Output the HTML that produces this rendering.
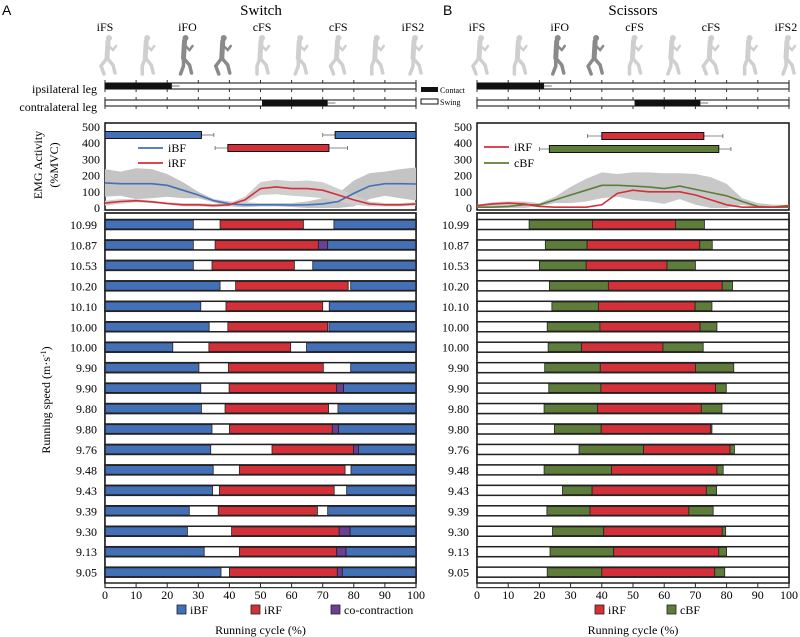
<!DOCTYPE html>
<html><head><meta charset="utf-8"><style>
html,body{margin:0;padding:0;background:#fff;}
svg{display:block;font-family:"Liberation Serif",serif;}
</style></head><body>
<svg id="fig" width="800" height="637" viewBox="0 0 800 637" xmlns="http://www.w3.org/2000/svg">
<text x="2" y="15" font-family="Liberation Sans,sans-serif" font-size="14">A</text>
<text x="443" y="15" font-family="Liberation Sans,sans-serif" font-size="14">B</text>
<text x="261" y="15" font-size="15" text-anchor="middle">Switch</text>
<text x="633" y="15" font-size="15" text-anchor="middle">Scissors</text>
<text x="97" y="93" font-size="12" text-anchor="end">ipsilateral leg</text>
<text x="97" y="111" font-size="12" text-anchor="end">contralateral leg</text>
<g>
<rect x="421" y="87" width="17" height="5" fill="#111"/>
<text x="440" y="93" font-size="8">Contact</text>
<rect x="421" y="99" width="17" height="5" fill="#fff" stroke="#111"/>
<text x="440" y="105" font-size="8">Swing</text>
</g>
<text transform="translate(42,165) rotate(-90)" font-size="12" text-anchor="middle">EMG Activity</text>
<text transform="translate(58,165) rotate(-90)" font-size="12" text-anchor="middle">(%MVC)</text>
<text transform="translate(50,400) rotate(-90)" font-size="12" text-anchor="middle">Running speed (m·s<tspan dy="-4" font-size="8">-1</tspan><tspan dy="4">)</tspan></text>
<g id="L"></g><g id="R"></g>
</svg>
<script>
// ---- data ----
const speeds = ["10.99","10.87","10.53","10.20","10.10","10.00","10.00","9.90","9.90","9.80","9.80","9.76","9.48","9.43","9.39","9.30","9.13","9.05"];
// Switch (A)
const swBFend   = [28.4,28.4,28.4,37,30.8,33.5,21.8,30.2,30.8,31,34.4,34,34.8,34.6,27.1,26.5,31.9,37.3];
const swRFstart = [37,35.4,34.4,42,38.9,39.5,33.4,39.7,39.9,38.6,40,53.7,43.2,36.8,36.4,40.7,43.2,40];
const swRFend   = [63.8,68.6,60.9,78.2,70,71.6,59.7,70.2,74.5,71.9,73.1,79.9,77.2,73.7,68.3,75.3,74.5,74.7];
const swCoEnd   = [63.8,71.6,60.9,78.2,70,71.6,59.7,70.2,76.7,71.9,75.1,81.5,77.2,73.7,68.3,78.8,77.5,76.3];
const swBFstart = [73.6,71.6,66.8,79,72.1,72,64.8,79,76.7,74.9,75.1,81.5,79.1,77.7,71.6,78.8,77.5,76.3];
// Scissors (B)
const scBFstart = [16.7,21.9,20,23.2,24,22.5,22.8,21.7,23,21.5,24.8,32.7,21.5,27.4,22.4,24.2,23.4,22.5];
const scRFstart = [37,35.3,35,42.1,38.9,39.4,33.5,39.5,39.7,38.6,39.8,53.4,43.1,36.9,36.2,40.6,43.8,40];
const scRFend   = [63.6,71.4,60.9,78.6,69.9,71.5,59.6,70,76.5,71.9,74.9,81.1,76.9,73.5,67.9,78.6,77.5,76.2];
const scBFend   = [72.9,75.4,70,81.9,75.3,76.9,72.5,82.3,79.9,78.5,75.3,82.5,78.9,76.8,75.7,79.7,80,79.4];
// EMG curves at 0,5,...,100 %
const cyc = [0,5,10,15,20,25,30,35,40,45,50,55,60,65,70,75,80,85,90,95,100];
const swIBF   = [155,150,150,150,140,110,80,45,25,20,20,20,18,20,25,40,90,135,150,150,148];
const swIBFsd = [240,225,245,240,210,160,100,55,40,35,30,30,30,40,60,90,170,215,225,240,250];
const swIRF   = [30,40,45,38,28,20,20,15,20,50,120,130,120,120,110,80,50,25,20,20,25];
const swIRFsd = [45,55,55,45,35,30,30,25,30,70,160,175,165,170,160,120,80,40,30,30,35];
const scIRF   = [15,25,30,25,10,5,5,5,20,90,110,100,100,100,80,50,20,5,5,5,15];
const scCBF   = [5,5,10,20,20,50,80,110,140,140,135,130,120,135,115,95,75,40,10,5,5];
const scSD    = [20,35,40,40,30,70,130,180,220,210,220,220,215,215,210,190,150,60,30,20,20];
// EMG summary bars [start,end,errLo,errHi]
const swBFbarA = [0,31,31,35];
const swBFbarB = [74,100,70,74];
const swRFbar  = [39.5,72,35.4,78];
const scRFbar  = [40,72.7,35.4,78.8];
const scCBFbar = [23.2,77.5,20,81.4];
const phaseLabels = ["iFS","iFO","cFS","cFS","iFS2"];
const phasePos = [0,26.5,50.5,75,99];
const contactIps = [0,21.5];
const contactCon = [50.5,71.6];
const emgTicks = [0,100,200,300,400,500];
const xTicks = [0,10,20,30,40,50,60,70,80,90,100];

const C = {blue:"#4370b7",red:"#d3303a",purple:"#6b3f98",green:"#5e7d3a",dark:"#222"};
const NS="http://www.w3.org/2000/svg";
function mk(parent,tag,attrs,txt){const e=document.createElementNS(NS,tag);for(const k in attrs)e.setAttribute(k,attrs[k]);if(txt!==undefined)e.textContent=txt;parent.appendChild(e);return e;}

function panel(g,x0,x1,side){
  const X=p=>x0+(x1-x0)*p/100;
  const rowY=i=>224.5+i*20.45;
  const EY=v=>208-v*0.162;
  // phase labels
  phaseLabels.forEach((t,i)=>{const e=mk(g,"text",{x:X(phasePos[i]),y:31,"font-size":"12","text-anchor":"middle"},t);
    
    });
  // runner figures (simple silhouettes)
  for(let k=0;k<9;k++){const cx=X(k*12.3)+2;const f=mk(g,"g",{});
    
    
    const col=(k>=2&&k<=3)?"#8a8a8a":"#cfcfcf";
    mk(f,"circle",{cx:cx+2,cy:38,r:3,fill:col});
    mk(f,"line",{x1:cx+1,y1:41,x2:cx,y2:58,stroke:col,"stroke-width":5,"stroke-linecap":"round"});
    mk(f,"polyline",{points:`${cx},58 ${cx-6+(k%3)*3},66 ${cx-3},74`,fill:"none",stroke:col,"stroke-width":3.5,"stroke-linecap":"round"});
    mk(f,"polyline",{points:`${cx},58 ${cx+6},65 ${cx+8},73`,fill:"none",stroke:col,"stroke-width":3.5,"stroke-linecap":"round"});
    mk(f,"polyline",{points:`${cx+1},45 ${cx+6},50 ${cx+9},46`,fill:"none",stroke:col,"stroke-width":2.5,"stroke-linecap":"round"});
  }
  // leg contact bars
  [[86,contactIps,'ipsilateral-contact-bar'],[103,contactCon,'contralateral-contact-bar']].forEach(([y,c,n])=>{
    const gg=mk(g,"g",{});
    
    
    xTicks.forEach(t=>mk(gg,"line",{x1:X(t),x2:X(t),y1:y-6,y2:y+6,stroke:"#333","stroke-width":1}));
    mk(gg,"rect",{x:x0,y:y-3,width:x1-x0,height:6,fill:"#fff",stroke:"#333","stroke-width":1.2});
    mk(gg,"rect",{x:X(c[0]),y:y-3,width:X(c[1])-X(c[0]),height:6,fill:"#111"});
    mk(gg,"line",{x1:X(c[1]),x2:X(c[1]+2.5),y1:y,y2:y,stroke:"#555","stroke-width":0.8});
  });
  // EMG frame
  const ef=mk(g,"rect",{x:x0,y:123,width:x1-x0,height:87,fill:"#fff",stroke:"#111","stroke-width":1.5});
  
  
  emgTicks.forEach(v=>{const e=mk(g,"text",{x:x0-5,y:EY(v)+4,"font-size":"12","text-anchor":"end"},String(v));
    
    });
  const poly=(arr)=>arr.map((v,i)=>`${X(cyc[i]).toFixed(1)},${EY(v).toFixed(1)}`).join(" ");
  const band=(up,mean)=>{const lo=mean.map((m,i)=>Math.max(0,2*m-up[i]));
    return poly(up)+" "+lo.map((v,i)=>`${X(cyc[i]).toFixed(1)},${EY(v).toFixed(1)}`).reverse().join(" ");};
  function bar(b,y,col,name){const gg=mk(g,"g",{});
    
    
    mk(gg,"line",{x1:X(b[2]),x2:X(b[3]),y1:y,y2:y,stroke:"#666","stroke-width":0.8});
    mk(gg,"line",{x1:X(b[2]),x2:X(b[2]),y1:y-2,y2:y+2,stroke:"#666","stroke-width":0.8});
    mk(gg,"line",{x1:X(b[3]),x2:X(b[3]),y1:y-2,y2:y+2,stroke:"#666","stroke-width":0.8});
    mk(gg,"rect",{x:X(b[0]),y:y-3.5,width:X(b[1])-X(b[0]),height:7,fill:col,stroke:"#111","stroke-width":1});}
  function curve(arr,col,name){const e=mk(g,"polyline",{points:poly(arr),fill:"none",stroke:col,"stroke-width":1.6});
    
    }
  function leg(y,col,t,lx,name){const gg=mk(g,"g",{});
    
    
    mk(gg,"line",{x1:lx,x2:lx+25,y1:y,y2:y,stroke:col,"stroke-width":1.8});
    mk(gg,"text",{x:lx+30,y:y+4,"font-size":"12"},t);}
  if(side==="L"){
    const b1=mk(g,"polygon",{points:band(swIBFsd,swIBF),fill:"#c4c4c4"});
    
    
    const b2=mk(g,"polygon",{points:band(swIRFsd,swIRF),fill:"#cfcfcf"});
    
    
    curve(swIBF,C.blue,'ibf-curve');curve(swIRF,C.red,'irf-curve');
    bar(swBFbarA,135,C.blue,'ibf-activation-bar-early');bar(swBFbarB,135,C.blue,'ibf-activation-bar-late');
    bar(swRFbar,148,C.red,'irf-activation-bar');
    leg(148,C.blue,"iBF",138,'legend-ibf');leg(163,C.red,"iRF",138,'legend-irf');
  } else {
    const b1=mk(g,"polygon",{points:band(scSD,scCBF),fill:"#c8c8c8"});
    
    
    curve(scCBF,C.green,'cbf-curve');curve(scIRF,C.red,'irf-curve');
    bar(scRFbar,136,C.red,'irf-activation-bar');bar(scCBFbar,149,C.green,'cbf-activation-bar');
    leg(147,C.red,"iRF",484,'legend-irf');leg(163,C.green,"cBF",484,'legend-cbf');
  }
  // bar panel
  const bf=mk(g,"rect",{x:x0,y:213,width:x1-x0,height:370,fill:"#fff",stroke:"#222","stroke-width":1.5});
  
  
  speeds.forEach((s,i)=>{const y=rowY(i);const row=mk(g,"g",{});
    
    
    mk(row,"rect",{x:x0,y:y+5,width:x1-x0,height:10.45,fill:"#fff",stroke:"#333","stroke-width":1.2});
    mk(row,"rect",{x:x0,y:y-5,width:x1-x0,height:10,fill:"#fff",stroke:"#222","stroke-width":1.5});
    const seg=(a,b,col,n)=>{if(b-a<=0)return;const r=mk(row,"rect",{x:X(a),y:y-4.3,width:X(b)-X(a),height:8.6,fill:col,stroke:"#222","stroke-width":0.8});
      
      };
    if(side==="L"){
      seg(0,swBFend[i],C.blue,'ibf-segment');seg(swRFstart[i],swRFend[i],C.red,'irf-segment');
      seg(swRFend[i],swCoEnd[i],C.purple,'co-contraction-segment');seg(swBFstart[i],100,C.blue,'ibf-segment');
    } else {
      seg(scBFstart[i],scRFstart[i],C.green,'cbf-segment');seg(scRFstart[i],scRFend[i],C.red,'irf-segment');
      seg(scRFend[i],scBFend[i],C.green,'cbf-segment');
    }
    const t=mk(g,"text",{x:x0-8,y:y+4.5,"font-size":"12","text-anchor":"end"},s);
    
    
  });
  mk(g,"rect",{x:x0,y:213,width:x1-x0,height:370,fill:"none",stroke:"#222","stroke-width":1.5});
  xTicks.forEach(v=>{mk(g,"line",{x1:X(v),x2:X(v),y1:583,y2:587,stroke:"#222"});
    const e=mk(g,"text",{x:X(v),y:599,"font-size":"12","text-anchor":"middle"},String(v));
    
    });
  const xl=mk(g,"text",{x:(x0+x1)/2,y:634,"font-size":"12","text-anchor":"middle"},"Running cycle (%)");
  
  
  const items = side==="L"?[[177,C.blue,"iBF"],[251,C.red,"iRF"],[331,C.purple,"co-contraction"]]:[[595,C.red,"iRF"],[667,C.green,"cBF"]];
  items.forEach(([lx,col,t])=>{const gg=mk(g,"g",{});
    
    
    mk(gg,"rect",{x:lx,y:605,width:9,height:9,fill:col,stroke:"#222","stroke-width":0.8});
    mk(gg,"text",{x:lx+13,y:614,"font-size":"12"},t);});
}
panel(document.getElementById("L"),105,416,"L");
panel(document.getElementById("R"),477,789,"R");
</script>
</body></html>
